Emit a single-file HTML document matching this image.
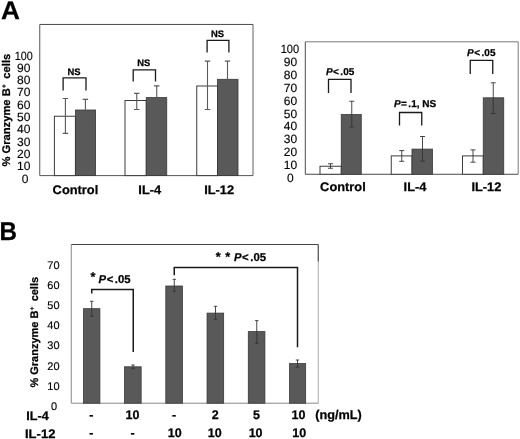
<!DOCTYPE html><html><head><meta charset="utf-8"><title>Figure</title><style>html,body{margin:0;padding:0;background:#fff}svg{display:block;filter:grayscale(1)}text{font-family:"Liberation Sans",sans-serif;fill:#000;text-rendering:geometricPrecision}</style></head><body>
<svg width="520" height="439" viewBox="0 0 520 439">
<rect width="520" height="439" fill="#fff"/>
<text transform="translate(0.9,18.8) scale(1.035,1)" font-size="25.3" font-weight="bold" text-anchor="start" stroke="#000" stroke-width="0.25" >A</text>
<text transform="translate(-0.5,239.95) scale(0.94,1)" font-size="25.7" font-weight="bold" text-anchor="start" stroke="#000" stroke-width="0.25" >B</text>
<line x1="39.75" y1="24.45" x2="253" y2="24.45" stroke="#4a4a4a" stroke-width="1"/>
<line x1="253" y1="24.45" x2="253" y2="175.6" stroke="#606060" stroke-width="1"/>
<line x1="39.75" y1="175.6" x2="253" y2="175.6" stroke="#555" stroke-width="1"/>
<line x1="39.75" y1="24.45" x2="39.75" y2="175.6" stroke="#555" stroke-width="1"/>
<rect x="54.4" y="116.25" width="21.000000000000007" height="59.349999999999994" fill="#fff" stroke="#3c3c3c" stroke-width="1"/>
<rect x="75.4" y="110" width="20.19999999999999" height="65.6" fill="#595959" stroke="#383838" stroke-width="0.8"/>
<rect x="125" y="100.5" width="21.25" height="75.1" fill="#fff" stroke="#3c3c3c" stroke-width="1"/>
<rect x="146.25" y="97.6" width="20.5" height="78.0" fill="#595959" stroke="#383838" stroke-width="0.8"/>
<rect x="196.75" y="86" width="20.75" height="89.6" fill="#fff" stroke="#3c3c3c" stroke-width="1"/>
<rect x="217.5" y="79.3" width="20.5" height="96.3" fill="#595959" stroke="#383838" stroke-width="0.8"/>
<path d="M62.7 98.5H68.10000000000001M65.4 98.5V133.4M62.7 133.4H68.10000000000001" stroke="#5a5a5a" stroke-width="1.1" fill="none"/>
<path d="M82.7 99.4H88.10000000000001M85.4 99.4V120.6M82.7 120.6H88.10000000000001" stroke="#5a5a5a" stroke-width="1.1" fill="none"/>
<path d="M134.05 93.4H139.45M136.75 93.4V109.5M134.05 109.5H139.45" stroke="#5a5a5a" stroke-width="1.1" fill="none"/>
<path d="M154.05 85.9H159.45M156.75 85.9V110.3M154.05 110.3H159.45" stroke="#5a5a5a" stroke-width="1.1" fill="none"/>
<path d="M204.8 61.1H210.2M207.5 61.1V109.5M204.8 109.5H210.2" stroke="#5a5a5a" stroke-width="1.1" fill="none"/>
<path d="M224.8 61.1H230.2M227.5 61.1V95.3M224.8 95.3H230.2" stroke="#5a5a5a" stroke-width="1.1" fill="none"/>
<path d="M63.1 90.6V77.9H86V90.6" stroke="#1a1a1a" stroke-width="1.3" fill="none" stroke-linejoin="miter"/>
<text x="74" y="74.75" font-size="9.4" font-weight="bold" text-anchor="middle" stroke="#000" stroke-width="0.25" >NS</text>
<path d="M133.2 81.5V69.9H155.5V81.5" stroke="#1a1a1a" stroke-width="1.3" fill="none" stroke-linejoin="miter"/>
<text x="143.75" y="66.4" font-size="9.4" font-weight="bold" text-anchor="middle" stroke="#000" stroke-width="0.25" >NS</text>
<path d="M207.1 52.4V40.4H228.9V52.4" stroke="#1a1a1a" stroke-width="1.3" fill="none" stroke-linejoin="miter"/>
<text x="217.5" y="36.9" font-size="9.4" font-weight="bold" text-anchor="middle" stroke="#000" stroke-width="0.25" >NS</text>
<text x="23.7" y="59.599999999999994" font-size="12" font-weight="normal" text-anchor="middle" stroke="#111" stroke-width="0.15" textLength="18" lengthAdjust="spacingAndGlyphs">100</text>
<text x="23.7" y="71.89" font-size="12" font-weight="normal" text-anchor="middle" stroke="#111" stroke-width="0.15" >90</text>
<text x="23.7" y="84.17999999999999" font-size="12" font-weight="normal" text-anchor="middle" stroke="#111" stroke-width="0.15" >80</text>
<text x="23.7" y="96.46999999999998" font-size="12" font-weight="normal" text-anchor="middle" stroke="#111" stroke-width="0.15" >70</text>
<text x="23.7" y="108.75999999999999" font-size="12" font-weight="normal" text-anchor="middle" stroke="#111" stroke-width="0.15" >60</text>
<text x="23.7" y="121.05" font-size="12" font-weight="normal" text-anchor="middle" stroke="#111" stroke-width="0.15" >50</text>
<text x="23.7" y="133.34" font-size="12" font-weight="normal" text-anchor="middle" stroke="#111" stroke-width="0.15" >40</text>
<text x="23.7" y="145.63" font-size="12" font-weight="normal" text-anchor="middle" stroke="#111" stroke-width="0.15" >30</text>
<text x="23.7" y="157.92000000000002" font-size="12" font-weight="normal" text-anchor="middle" stroke="#111" stroke-width="0.15" >20</text>
<text x="23.7" y="170.20999999999998" font-size="12" font-weight="normal" text-anchor="middle" stroke="#111" stroke-width="0.15" >10</text>
<text x="25" y="182.5" font-size="12" font-weight="normal" text-anchor="middle" stroke="#111" stroke-width="0.15" >0</text>
<text transform="translate(75.4,193.75) scale(1.035,1)" font-size="12.4" font-weight="bold" text-anchor="middle" stroke="#000" stroke-width="0.25" >Control</text>
<text transform="translate(149.75,193.75) scale(1.035,1)" font-size="12.4" font-weight="bold" text-anchor="middle" stroke="#000" stroke-width="0.25" >IL-4</text>
<text transform="translate(219.1,193.75) scale(1.035,1)" font-size="12.4" font-weight="bold" text-anchor="middle" stroke="#000" stroke-width="0.25" >IL-12</text>
<text transform="translate(9.9,166.6) rotate(-90)" font-size="11.2" font-weight="bold" text-anchor="start" stroke="#000" stroke-width="0.25">% Granzyme B<tspan font-size="6.16" dy="-4.03" dx="0.3">+</tspan><tspan dy="4.03" dx="2.6"> cells</tspan></text>
<line x1="305.3" y1="41.8" x2="518.2" y2="41.8" stroke="#7a7a7a" stroke-width="1"/>
<line x1="518.2" y1="41.8" x2="518.2" y2="174.25" stroke="#7a7a7a" stroke-width="1"/>
<line x1="305.3" y1="174.25" x2="518.2" y2="174.25" stroke="#4a4a4a" stroke-width="1"/>
<line x1="305.3" y1="41.8" x2="305.3" y2="174.25" stroke="#4a4a4a" stroke-width="1"/>
<rect x="320" y="166.25" width="21.25" height="8.0" fill="#fff" stroke="#3c3c3c" stroke-width="1"/>
<rect x="341.25" y="114.5" width="20.0" height="59.75" fill="#595959" stroke="#383838" stroke-width="0.8"/>
<rect x="391.25" y="155.9" width="20.75" height="18.349999999999994" fill="#fff" stroke="#3c3c3c" stroke-width="1"/>
<rect x="412" y="149.1" width="20.5" height="25.150000000000006" fill="#595959" stroke="#383838" stroke-width="0.8"/>
<rect x="462.5" y="155.9" width="20.75" height="18.349999999999994" fill="#fff" stroke="#3c3c3c" stroke-width="1"/>
<rect x="483.25" y="97.8" width="20.5" height="76.45" fill="#595959" stroke="#383838" stroke-width="0.8"/>
<path d="M328.0 163.75H333.0M330.5 163.75V168.25M328.0 168.25H333.0" stroke="#333" stroke-width="0.9" fill="none"/>
<path d="M349.25 101.25H354.25M351.75 101.25V127M349.25 127H354.25" stroke="#333" stroke-width="0.9" fill="none"/>
<path d="M399.25 150.6H404.25M401.75 150.6V161.3M399.25 161.3H404.25" stroke="#333" stroke-width="0.9" fill="none"/>
<path d="M420.0 136.5H425.0M422.5 136.5V161.2M420.0 161.2H425.0" stroke="#333" stroke-width="0.9" fill="none"/>
<path d="M470.5 149.9H475.5M473 149.9V162.2M470.5 162.2H475.5" stroke="#333" stroke-width="0.9" fill="none"/>
<path d="M490.75 82.8H495.75M493.25 82.8V113.5M490.75 113.5H495.75" stroke="#333" stroke-width="0.9" fill="none"/>
<path d="M328.5 93.1V79.4H351V93.1" stroke="#1a1a1a" stroke-width="1.3" fill="none" stroke-linejoin="miter"/>
<text x="325.90" y="75" font-size="10" font-weight="bold" stroke="#000" stroke-width="0.25"><tspan font-style="italic">P</tspan><tspan dx="0.55">&lt;</tspan><tspan dx="1.40">.05</tspan></text>
<path d="M399.5 125.5V112.5H421.75V125.5" stroke="#1a1a1a" stroke-width="1.3" fill="none" stroke-linejoin="miter"/>
<text x="393.90" y="106.75" font-size="10" font-weight="bold" stroke="#000" stroke-width="0.25"><tspan font-style="italic">P</tspan><tspan dx="0.55">=</tspan><tspan dx="1.40">.1, NS</tspan></text>
<path d="M470.25 74V60.4H492.75V74" stroke="#1a1a1a" stroke-width="1.3" fill="none" stroke-linejoin="miter"/>
<text x="467.10" y="56" font-size="10" font-weight="bold" stroke="#000" stroke-width="0.25"><tspan font-style="italic">P</tspan><tspan dx="0.55">&lt;</tspan><tspan dx="1.40">.05</tspan></text>
<text x="289.9" y="53.05" font-size="12" font-weight="normal" text-anchor="middle" stroke="#111" stroke-width="0.15" textLength="18.5" lengthAdjust="spacingAndGlyphs">100</text>
<text x="290.4" y="65.95" font-size="12" font-weight="normal" text-anchor="middle" stroke="#111" stroke-width="0.15" >90</text>
<text x="290.4" y="78.85" font-size="12" font-weight="normal" text-anchor="middle" stroke="#111" stroke-width="0.15" >80</text>
<text x="290.4" y="91.75" font-size="12" font-weight="normal" text-anchor="middle" stroke="#111" stroke-width="0.15" >70</text>
<text x="290.4" y="104.64999999999999" font-size="12" font-weight="normal" text-anchor="middle" stroke="#111" stroke-width="0.15" >60</text>
<text x="290.4" y="117.55" font-size="12" font-weight="normal" text-anchor="middle" stroke="#111" stroke-width="0.15" >50</text>
<text x="290.4" y="130.45000000000002" font-size="12" font-weight="normal" text-anchor="middle" stroke="#111" stroke-width="0.15" >40</text>
<text x="290.4" y="143.35000000000002" font-size="12" font-weight="normal" text-anchor="middle" stroke="#111" stroke-width="0.15" >30</text>
<text x="290.4" y="156.25" font-size="12" font-weight="normal" text-anchor="middle" stroke="#111" stroke-width="0.15" >20</text>
<text x="290.4" y="169.15000000000003" font-size="12" font-weight="normal" text-anchor="middle" stroke="#111" stroke-width="0.15" >10</text>
<text x="290.4" y="182.05" font-size="12" font-weight="normal" text-anchor="middle" stroke="#111" stroke-width="0.15" >0</text>
<text transform="translate(342.9,190.9) scale(1.035,1)" font-size="12.4" font-weight="bold" text-anchor="middle" stroke="#000" stroke-width="0.25" >Control</text>
<text transform="translate(415,190.9) scale(1.035,1)" font-size="12.4" font-weight="bold" text-anchor="middle" stroke="#000" stroke-width="0.25" >IL-4</text>
<text transform="translate(486.4,190.9) scale(1.035,1)" font-size="12.4" font-weight="bold" text-anchor="middle" stroke="#000" stroke-width="0.25" >IL-12</text>
<line x1="71.25" y1="244.5" x2="318.25" y2="244.5" stroke="#444" stroke-width="1"/>
<line x1="318.25" y1="244.5" x2="318.25" y2="403.2" stroke="#aaa" stroke-width="1"/>
<line x1="71.25" y1="403.2" x2="318.25" y2="403.2" stroke="#888" stroke-width="1"/>
<line x1="71.25" y1="244.5" x2="71.25" y2="403.2" stroke="#888" stroke-width="1"/>
<line x1="318.25" y1="244.5" x2="318.25" y2="261.5" stroke="#444" stroke-width="1"/>
<rect x="83.55" y="308.7" width="16.35000000000001" height="94.5" fill="#595959" stroke="#383838" stroke-width="0.8"/>
<rect x="124.55" y="366.8" width="16.60000000000001" height="36.39999999999998" fill="#595959" stroke="#383838" stroke-width="0.8"/>
<rect x="165.8" y="286" width="16.599999999999994" height="117.19999999999999" fill="#595959" stroke="#383838" stroke-width="0.8"/>
<rect x="207.05" y="313.1" width="16.599999999999994" height="90.09999999999997" fill="#595959" stroke="#383838" stroke-width="0.8"/>
<rect x="248.3" y="331.6" width="16.599999999999966" height="71.59999999999997" fill="#595959" stroke="#383838" stroke-width="0.8"/>
<rect x="289.55" y="363.6" width="16.099999999999966" height="39.599999999999966" fill="#595959" stroke="#383838" stroke-width="0.8"/>
<path d="M90.05 301.3H93.45M91.75 301.3V316.25M90.05 316.25H93.45" stroke="#333" stroke-width="0.9" fill="none"/>
<path d="M131.3 365H134.7M133 365V368.7M131.3 368.7H134.7" stroke="#333" stroke-width="0.9" fill="none"/>
<path d="M172.55 279.3H175.95M174.25 279.3V291.3M172.55 291.3H175.95" stroke="#333" stroke-width="0.9" fill="none"/>
<path d="M213.8 306.3H217.2M215.5 306.3V319.3M213.8 319.3H217.2" stroke="#333" stroke-width="0.9" fill="none"/>
<path d="M255.05 320.6H258.45M256.75 320.6V343.3M255.05 343.3H258.45" stroke="#333" stroke-width="0.9" fill="none"/>
<path d="M295.8 360H299.2M297.5 360V367.2M295.8 367.2H299.2" stroke="#333" stroke-width="0.9" fill="none"/>
<path d="M91.75 293.4V289.4H133.25V352" stroke="#1a1a1a" stroke-width="1.5" fill="none" stroke-linejoin="miter"/>
<path d="M174.25 275.3V267.6H297.5V347.3" stroke="#1a1a1a" stroke-width="1.5" fill="none" stroke-linejoin="miter"/>
<text x="90.40" y="281.29999999999995" font-size="12.66" font-weight="bold" stroke="#000" stroke-width="0.25">*</text>
<text x="98.50" y="283.4" font-size="11.3" font-weight="bold" stroke="#000" stroke-width="0.25"><tspan font-style="italic">P</tspan><tspan dx="0.62">&lt;</tspan><tspan dx="1.58">.05</tspan></text>
<text x="215.70" y="260.9" font-size="12.66" font-weight="bold" stroke="#000" stroke-width="0.25">*</text>
<text x="225.30" y="260.9" font-size="12.66" font-weight="bold" stroke="#000" stroke-width="0.25">*</text>
<text x="233.90" y="260.6" font-size="11.3" font-weight="bold" stroke="#000" stroke-width="0.25"><tspan font-style="italic">P</tspan><tspan dx="0.62">&lt;</tspan><tspan dx="1.58">.05</tspan></text>
<text x="59.6" y="269.2" font-size="11" font-weight="normal" text-anchor="end" stroke="#111" stroke-width="0.15" >70</text>
<text x="59.6" y="289.27" font-size="11" font-weight="normal" text-anchor="end" stroke="#111" stroke-width="0.15" >60</text>
<text x="59.6" y="309.34" font-size="11" font-weight="normal" text-anchor="end" stroke="#111" stroke-width="0.15" >50</text>
<text x="59.6" y="329.40999999999997" font-size="11" font-weight="normal" text-anchor="end" stroke="#111" stroke-width="0.15" >40</text>
<text x="59.6" y="349.48" font-size="11" font-weight="normal" text-anchor="end" stroke="#111" stroke-width="0.15" >30</text>
<text x="59.6" y="369.54999999999995" font-size="11" font-weight="normal" text-anchor="end" stroke="#111" stroke-width="0.15" >20</text>
<text x="59.6" y="389.62" font-size="11" font-weight="normal" text-anchor="end" stroke="#111" stroke-width="0.15" >10</text>
<text x="54" y="410.15" font-size="11" font-weight="normal" text-anchor="middle" stroke="#111" stroke-width="0.15" >0</text>
<text transform="translate(37.7,387.6) rotate(-90)" font-size="11.0" font-weight="bold" text-anchor="start" stroke="#000" stroke-width="0.25">% Granzyme B<tspan font-size="6.05" dy="-3.96" dx="0.3">+</tspan><tspan dy="3.96" dx="2.3"> cells</tspan></text>
<text transform="translate(26.2,419.8) scale(1.02,1)" font-size="12.4" font-weight="bold" text-anchor="start" stroke="#000" stroke-width="0.25" >IL-4</text>
<text transform="translate(25,437.5) scale(1.05,1)" font-size="12.4" font-weight="bold" text-anchor="start" stroke="#000" stroke-width="0.25" >IL-12</text>
<text x="91.25" y="419.1" font-size="12.5" font-weight="bold" text-anchor="middle" stroke="#000" stroke-width="0.25" >-</text>
<text x="132.5" y="419.1" font-size="12.5" font-weight="bold" text-anchor="middle" stroke="#000" stroke-width="0.25" >10</text>
<text x="174" y="419.1" font-size="12.5" font-weight="bold" text-anchor="middle" stroke="#000" stroke-width="0.25" >-</text>
<text x="215.2" y="419.1" font-size="12.5" font-weight="bold" text-anchor="middle" stroke="#000" stroke-width="0.25" >2</text>
<text x="256.6" y="419.1" font-size="12.5" font-weight="bold" text-anchor="middle" stroke="#000" stroke-width="0.25" >5</text>
<text x="298.5" y="419.1" font-size="12.5" font-weight="bold" text-anchor="middle" stroke="#000" stroke-width="0.25" >10</text>
<text x="91.25" y="437.4" font-size="12.5" font-weight="bold" text-anchor="middle" stroke="#000" stroke-width="0.25" >-</text>
<text x="132.5" y="437.4" font-size="12.5" font-weight="bold" text-anchor="middle" stroke="#000" stroke-width="0.25" >-</text>
<text x="174.8" y="437.4" font-size="12.5" font-weight="bold" text-anchor="middle" stroke="#000" stroke-width="0.25" >10</text>
<text x="214.7" y="437.4" font-size="12.5" font-weight="bold" text-anchor="middle" stroke="#000" stroke-width="0.25" >10</text>
<text x="255.6" y="437.4" font-size="12.5" font-weight="bold" text-anchor="middle" stroke="#000" stroke-width="0.25" >10</text>
<text x="299.3" y="437.4" font-size="12.5" font-weight="bold" text-anchor="middle" stroke="#000" stroke-width="0.25" >10</text>
<text x="315.3" y="419" font-size="12.7" font-weight="bold" text-anchor="start" stroke="#000" stroke-width="0.25" >(ng/mL)</text>
</svg></body></html>
